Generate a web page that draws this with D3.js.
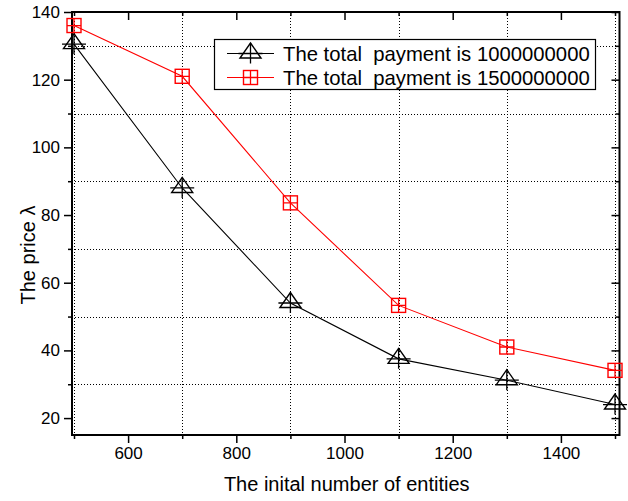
<!DOCTYPE html>
<html>
<head>
<meta charset="utf-8">
<script src="https://cdn.jsdelivr.net/npm/d3@7"></script>
<style>
  html, body { margin: 0; padding: 0; background: #fff; }
  svg { display: block; font-family: "Liberation Sans", Arial, sans-serif; }
  text { white-space: pre; }
</style>
</head>
<body>
<svg id="chart" width="628" height="501"></svg>
<script>
// Number of entities at start
const entities = [500, 700, 900, 1100, 1300, 1500];
// Price λ for each total payment
const price1e9 = [130.5, 88, 54, 37.5, 31.2, 24];
const price15e8 = [136, 121, 83.6, 53.3, 41, 34.1];
const seriesNames = ["The total  payment is 1000000000", "The total  payment is 1500000000"];

const xMajor = [600, 800, 1000, 1200, 1400];
const xMinor = [500, 700, 900, 1100, 1300, 1500];
const yMajor = [20, 40, 60, 80, 100, 120, 140];
const yMinor = [30, 50, 70, 90, 110, 130];

const svg = d3.select("#chart");
const plotL = 72, plotR = 619.5, plotT = 12, plotB = 435;

const x = d3.scaleLinear().domain([496.3, 1508.3]).range([plotL, plotR]);
const y = d3.scaleLinear().domain([15, 140]).range([plotB, plotT]);

// dotted grid at the minor positions
const grid = svg.append("g").attr("stroke", "#000").attr("stroke-width", 1)
  .attr("stroke-dasharray", "1,2").attr("shape-rendering", "crispEdges");
grid.selectAll("line.v").data(xMinor).join("line").attr("class", "v")
  .attr("x1", d => Math.round(x(d)) + 0.5).attr("x2", d => Math.round(x(d)) + 0.5)
  .attr("y1", plotT).attr("y2", plotB);
grid.selectAll("line.h").data(yMinor).join("line").attr("class", "h")
  .attr("x1", plotL).attr("x2", plotR)
  .attr("y1", d => Math.round(y(d)) + 0.5).attr("y2", d => Math.round(y(d)) + 0.5);

// axes
function styleAxis(g) {
  g.select(".domain").remove();
  g.selectAll(".tick line").attr("stroke", "#000").attr("stroke-width", 1.5);
  g.selectAll(".tick text").attr("font-size", 17).attr("fill", "#000")
    .attr("font-family", "Liberation Sans, Arial, sans-serif");
}
svg.append("g").attr("transform", `translate(0,${plotB})`)
  .call(d3.axisBottom(x).tickValues(xMajor).tickSize(8).tickPadding(4).tickFormat(d3.format("d")))
  .call(styleAxis);
svg.append("g").attr("transform", `translate(0,${plotB})`)
  .call(d3.axisBottom(x).tickValues(xMinor).tickSize(4).tickFormat(""))
  .call(styleAxis);
svg.append("g").attr("transform", `translate(0,${plotT})`)
  .call(d3.axisBottom(x).tickValues(xMajor).tickSize(8).tickFormat(""))
  .call(styleAxis);
svg.append("g").attr("transform", `translate(0,${plotT})`)
  .call(d3.axisBottom(x).tickValues(xMinor).tickSize(4).tickFormat(""))
  .call(styleAxis);
svg.append("g").attr("transform", `translate(${plotL},0)`)
  .call(d3.axisLeft(y).tickValues(yMajor).tickSize(8).tickPadding(4).tickFormat(d3.format("d")))
  .call(styleAxis);
svg.append("g").attr("transform", `translate(${plotL},0)`)
  .call(d3.axisLeft(y).tickValues(yMinor).tickSize(4).tickFormat(""))
  .call(styleAxis);
svg.append("g").attr("transform", `translate(${plotR},0)`)
  .call(d3.axisLeft(y).tickValues(yMajor).tickSize(8).tickFormat(""))
  .call(styleAxis);
svg.append("g").attr("transform", `translate(${plotR},0)`)
  .call(d3.axisLeft(y).tickValues(yMinor).tickSize(4).tickFormat(""))
  .call(styleAxis);

// frame
svg.append("rect").attr("x", plotL).attr("y", plotT)
  .attr("width", plotR - plotL).attr("height", plotB - plotT)
  .attr("fill", "none").attr("stroke", "#000").attr("stroke-width", 2);

// markers
function triangle(g, color) {
  g.append("path").attr("d", "M0,-10.5 L10.5,4.5 L-10.5,4.5 Z")
    .attr("fill", "none").attr("stroke", color).attr("stroke-width", 1.4);
  g.append("path").attr("d", "M0,-10.5 V10 M-12,0 H12")
    .attr("fill", "none").attr("stroke", color).attr("stroke-width", 1.3);
}
function square(g, color) {
  g.append("rect").attr("x", -7).attr("y", -7).attr("width", 14).attr("height", 14)
    .attr("fill", "none").attr("stroke", color).attr("stroke-width", 1.4);
  g.append("path").attr("d", "M0,-7 V7 M-7,0 H7")
    .attr("fill", "none").attr("stroke", color).attr("stroke-width", 1.3);
}

const line = d3.line().x((d, i) => x(entities[i])).y(d => y(d));
const series = [
  { values: price1e9, color: "#000", marker: triangle },
  { values: price15e8, color: "#ff0000", marker: square }
];
series.forEach(s => {
  svg.append("path").datum(s.values).attr("d", line)
    .attr("fill", "none").attr("stroke", s.color).attr("stroke-width", 1.1);
});
series.forEach(s => {
  s.values.forEach((v, i) => {
    const g = svg.append("g").attr("transform", `translate(${x(entities[i])},${y(v)})`);
    s.marker(g, s.color);
  });
});

// legend
const lg = svg.append("g");
lg.append("rect").attr("x", 214.5).attr("y", 39.5).attr("width", 381).attr("height", 50)
  .attr("fill", "#fff").attr("stroke", "#000").attr("stroke-width", 1.2);
series.forEach((s, i) => {
  const cy = 53.5 + i * 24;
  lg.append("line").attr("x1", 227).attr("x2", 274).attr("y1", cy).attr("y2", cy)
    .attr("stroke", s.color).attr("stroke-width", 1.1);
  s.marker(lg.append("g").attr("transform", `translate(250.5,${cy})`), s.color);
  lg.append("text").attr("x", 283).attr("y", cy).attr("dy", "0.36em")
    .attr("font-size", 20.3).attr("fill", "#000").text(seriesNames[i]);
});

// axis titles
svg.append("text").attr("x", (plotL + plotR) / 2 + 1).attr("y", 491)
  .attr("text-anchor", "middle").attr("font-size", 20).attr("fill", "#000")
  .text("The inital number of entities");
svg.append("text").attr("transform", "translate(35,255) rotate(-90)")
  .attr("text-anchor", "middle").attr("font-size", 20).attr("fill", "#000")
  .text("The price λ");
</script>
</body>
</html>
